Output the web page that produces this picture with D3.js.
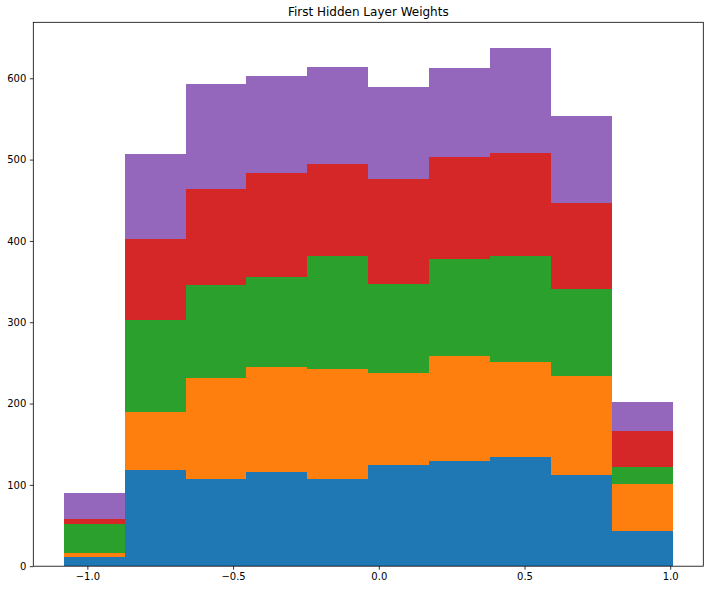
<!DOCTYPE html>
<html>
<head>
<meta charset="utf-8">
<script src="https://cdn.jsdelivr.net/npm/d3@7"></script>
<style>
  html, body { margin: 0; padding: 0; background: #fff; }
  svg { display: block; font-family: "DejaVu Sans", sans-serif; }
</style>
</head>
<body>
<svg id="chart" width="713" height="590"></svg>
<script>
// Histogram bin edges (10 bins)
const binEdges = [-1.081, -0.872, -0.663, -0.454, -0.245, -0.036, 0.173, 0.382, 0.591, 0.800, 1.009];
// Counts per series (stacked)
const series0 = [11, 118, 107, 116, 107, 124, 129, 134, 112, 43];
const series1 = [5, 72, 124, 129, 135, 113, 129, 117, 122, 58];
const series2 = [36, 113, 115, 111, 140, 110, 120, 130, 107, 21];
const series3 = [6, 99, 118, 127, 113, 129, 125, 127, 106, 44];
const series4 = [32, 105, 129, 120, 119, 113, 110, 129, 107, 36];
const seriesColors = ["#1f77b4", "#ff7f0e", "#2ca02c", "#d62728", "#9467bd"];
const xTicks = [-1.0, -0.5, 0.0, 0.5, 1.0];
const yTicks = [0, 100, 200, 300, 400, 500, 600];
const title = "First Hidden Layer Weights";

const W = 713, H = 590;
const margin = { left: 33.3, right: 713 - 703.3, top: 22.3, bottom: 590 - 566.2 };
const svg = d3.select("#chart");

const allSeries = [series0, series1, series2, series3, series4];
const bins = binEdges.slice(0, -1).map((x0, i) => {
  const row = { x0: x0, x1: binEdges[i + 1] };
  allSeries.forEach((s, k) => row["s" + k] = s[i]);
  return row;
});
const keys = allSeries.map((_, k) => "s" + k);
const stacked = d3.stack().keys(keys)(bins);

const xMin = binEdges[0], xMax = binEdges[binEdges.length - 1];
const xPad = (xMax - xMin) * 0.05;
const totalMax = d3.max(stacked[stacked.length - 1], d => d[1]);

const x = d3.scaleLinear().domain([xMin - xPad, xMax + xPad]).range([margin.left, W - margin.right]);
const y = d3.scaleLinear().domain([0, totalMax * 1.05]).range([H - margin.bottom, margin.top]);

const g = svg.append("g");
stacked.forEach((layer, k) => {
  g.selectAll(null).data(layer).enter().append("rect")
    .attr("x", d => x(d.data.x0))
    .attr("width", d => x(d.data.x1) - x(d.data.x0))
    .attr("y", d => y(d[1]))
    .attr("height", d => y(d[0]) - y(d[1]))
    .attr("fill", seriesColors[k])
    .attr("shape-rendering", "crispEdges");
});

const fmt = v => d3.format(".1f")(v).replace("-", "\u2212");

const xAxis = svg.append("g")
  .attr("transform", `translate(0,${H - margin.bottom})`)
  .call(d3.axisBottom(x).tickValues(xTicks).tickFormat(fmt).tickSize(3.5).tickPadding(3.5));
const yAxis = svg.append("g")
  .attr("transform", `translate(${margin.left},0)`)
  .call(d3.axisLeft(y).tickValues(yTicks).tickFormat(d3.format("d")).tickSize(3.5).tickPadding(3.5));

[xAxis, yAxis].forEach(a => {
  a.select(".domain").remove();
  a.selectAll("text").attr("font-size", 10).attr("font-family", "DejaVu Sans, sans-serif").attr("fill", "#000");
  a.selectAll("line").attr("stroke", "#000").attr("stroke-width", 0.8);
});

// frame
svg.append("rect")
  .attr("x", margin.left).attr("y", margin.top)
  .attr("width", W - margin.right - margin.left)
  .attr("height", H - margin.bottom - margin.top)
  .attr("fill", "none").attr("stroke", "#000").attr("stroke-width", 0.8);

svg.append("text")
  .attr("x", (margin.left + W - margin.right) / 2)
  .attr("y", margin.top - 6)
  .attr("text-anchor", "middle")
  .attr("font-size", 12)
  .attr("fill", "#000")
  .text(title);
</script>
</body>
</html>
